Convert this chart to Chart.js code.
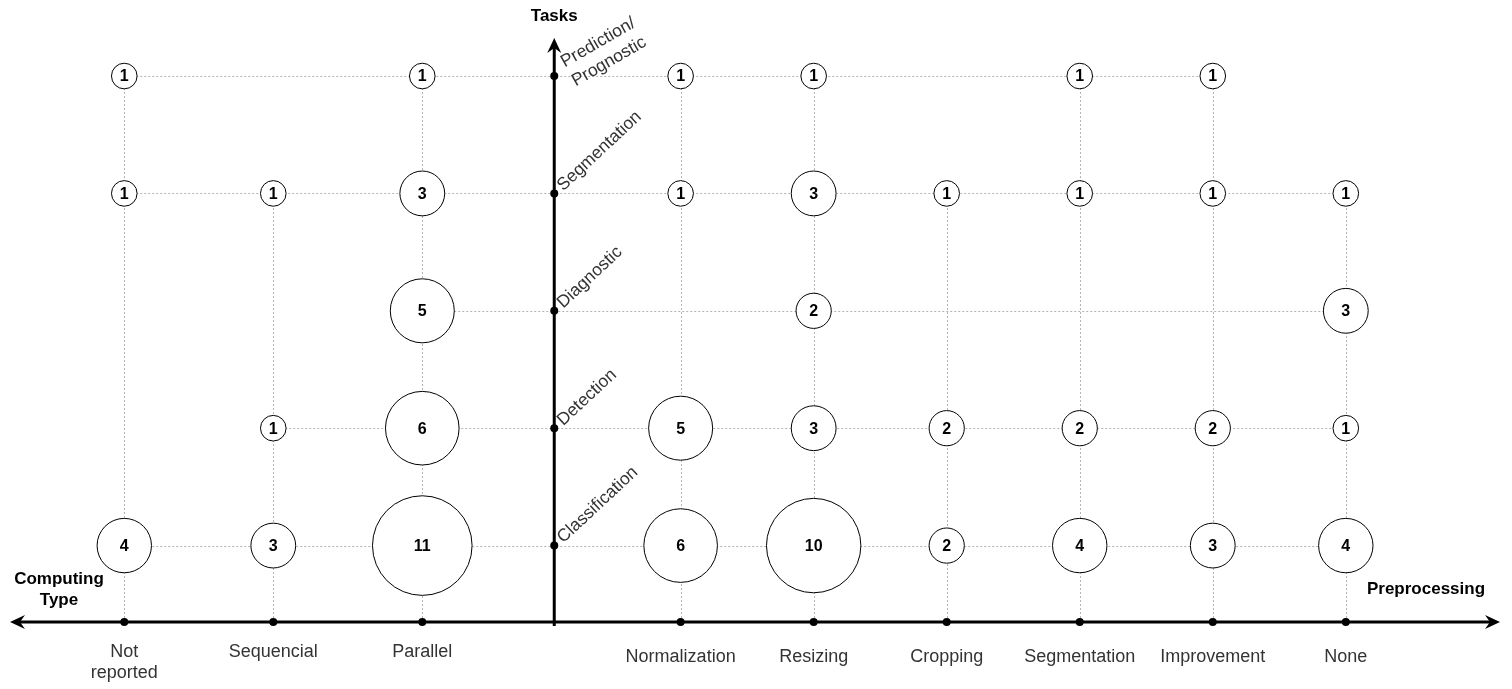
<!DOCTYPE html>
<html>
<head>
<meta charset="utf-8">
<script src="https://cdn.jsdelivr.net/npm/chart.js@4.4.1/dist/chart.umd.min.js"></script>
<style>
    html, body { margin: 0; padding: 0; background: #fff; }
    #wrap { width: 1512px; height: 689px; position: relative; }
</style>
</head>
<body>
<div id="wrap"><canvas id="chart"></canvas></div>
<script>
(function () {
    'use strict';

    // tasks from bottom (1) to top (5)
    const tasks = ['Classification', 'Detection', 'Diagnostic', 'Segmentation', ['Prediction/', 'Prognostic']];
    // left side of the horizontal axis
    const computingTypes = [['Not', 'reported'], 'Sequencial', 'Parallel'];
    // right side of the horizontal axis
    const preprocessing = ['Normalization', 'Resizing', 'Cropping', 'Segmentation', 'Improvement', 'None'];

    // number of studies, one row per category, one column per task (same order as tasks)
    const computingCounts = [
        [4, 0, 0, 1, 1],
        [3, 1, 0, 1, 0],
        [11, 6, 5, 3, 1]
    ];
    const preprocessingCounts = [
        [6, 5, 0, 1, 1],
        [10, 3, 2, 3, 1],
        [2, 2, 0, 1, 0],
        [4, 2, 0, 1, 1],
        [3, 2, 0, 1, 1],
        [4, 1, 3, 1, 0]
    ];

    const FONT = '"Liberation Sans", Arial, Helvetica, sans-serif';
    const TEXT = '#333333';
    const GRID = '#b3b3b3';
    const TASK_AXIS_AT = 0.05; // where the tasks axis crosses, in preprocessing units

    function computingX(i) {
        return i - computingTypes.length;
    }

    function preprocessingX(i) {
        return i + 1;
    }

    function toPoints(counts, xOf) {
        const points = [];
        counts.forEach(function (row, i) {
            row.forEach(function (value, t) {
                if (value > 0) {
                    points.push({ x: xOf(i), y: t + 1, v: value });
                }
            });
        });
        return points;
    }

    function bubbleRadius(value) {
        if (value <= 6) {
            return 8 + 4.8 * value;
        }
        return 36.8 + 2.6 * (value - 6);
    }

    function drawArrowHead(ctx, x, y, dx, dy) {
        const len = 15;
        const half = 7;
        const notch = 10;
        const px = -dy;
        const py = dx;
        ctx.beginPath();
        ctx.moveTo(x, y);
        ctx.lineTo(x - dx * len + px * half, y - dy * len + py * half);
        ctx.lineTo(x - dx * notch, y - dy * notch);
        ctx.lineTo(x - dx * len - px * half, y - dy * len - py * half);
        ctx.closePath();
        ctx.fill();
    }

    function axisX(chart) {
        return chart.scales.xr.getPixelForValue(TASK_AXIS_AT);
    }

    const diagramPlugin = {
        id: 'diagram',
        beforeDatasetsDraw: function (chart) {
            const ctx = chart.ctx;
            const area = chart.chartArea;
            const yScale = chart.scales.y;
            const sides = [
                { scale: chart.scales.xl, counts: computingCounts, xOf: computingX },
                { scale: chart.scales.xr, counts: preprocessingCounts, xOf: preprocessingX }
            ];

            ctx.save();
            ctx.strokeStyle = GRID;
            ctx.lineWidth = 1;
            ctx.setLineDash([2, 2]);

            // vertical connectors: axis up to the highest bubble in each column
            sides.forEach(function (side) {
                side.counts.forEach(function (row, i) {
                    let top = 0;
                    row.forEach(function (value, t) {
                        if (value > 0) {
                            top = t + 1;
                        }
                    });
                    if (!top) {
                        return;
                    }
                    const px = Math.round(side.scale.getPixelForValue(side.xOf(i))) + 0.5;
                    ctx.beginPath();
                    ctx.moveTo(px, area.bottom);
                    ctx.lineTo(px, yScale.getPixelForValue(top));
                    ctx.stroke();
                });
            });

            // horizontal connectors: leftmost to rightmost bubble in each row
            tasks.forEach(function (task, t) {
                let minX = Infinity;
                let maxX = -Infinity;
                sides.forEach(function (side) {
                    side.counts.forEach(function (row, i) {
                        if (row[t] > 0) {
                            const px = side.scale.getPixelForValue(side.xOf(i));
                            minX = Math.min(minX, px);
                            maxX = Math.max(maxX, px);
                        }
                    });
                });
                const py = Math.round(yScale.getPixelForValue(t + 1)) + 0.5;
                ctx.beginPath();
                ctx.moveTo(minX, py);
                ctx.lineTo(maxX, py);
                ctx.stroke();
            });

            ctx.restore();
        },
        afterDatasetsDraw: function (chart) {
            const ctx = chart.ctx;
            const area = chart.chartArea;
            const yScale = chart.scales.y;
            const xl = chart.scales.xl;
            const xr = chart.scales.xr;
            const centerX = axisX(chart);

            ctx.save();

            // values inside the bubbles
            ctx.fillStyle = '#000';
            ctx.font = 'bold 16px ' + FONT;
            ctx.textAlign = 'center';
            ctx.textBaseline = 'middle';
            chart.data.datasets.forEach(function (dataset, d) {
                const meta = chart.getDatasetMeta(d);
                meta.data.forEach(function (el, i) {
                    ctx.fillText(String(dataset.data[i].v), el.x, el.y + 1);
                });
            });

            // axes
            ctx.strokeStyle = '#000';
            ctx.fillStyle = '#000';
            ctx.lineWidth = 3;
            ctx.beginPath();
            ctx.moveTo(area.left + 10, area.bottom);
            ctx.lineTo(area.right - 10, area.bottom);
            ctx.stroke();
            ctx.beginPath();
            ctx.moveTo(centerX, area.bottom + 4);
            ctx.lineTo(centerX, area.top + 10);
            ctx.stroke();
            drawArrowHead(ctx, area.left, area.bottom, -1, 0);
            drawArrowHead(ctx, area.right, area.bottom, 1, 0);
            drawArrowHead(ctx, centerX, area.top, 0, -1);

            // dots on the axes
            function dot(x, y) {
                ctx.beginPath();
                ctx.arc(x, y, 4, 0, Math.PI * 2);
                ctx.fill();
            }
            computingTypes.forEach(function (c, i) {
                dot(xl.getPixelForValue(computingX(i)), area.bottom);
            });
            preprocessing.forEach(function (p, i) {
                dot(xr.getPixelForValue(preprocessingX(i)), area.bottom);
            });
            tasks.forEach(function (task, t) {
                dot(centerX, yScale.getPixelForValue(t + 1));
            });

            // category labels under the horizontal axis
            ctx.fillStyle = TEXT;
            ctx.font = '18px ' + FONT;
            ctx.textAlign = 'center';
            ctx.textBaseline = 'middle';
            function drawLines(label, x, y, lineHeight) {
                const lines = Array.isArray(label) ? label : [label];
                lines.forEach(function (line, k) {
                    ctx.fillText(line, x, y + k * lineHeight);
                });
            }
            computingTypes.forEach(function (label, i) {
                drawLines(label, xl.getPixelForValue(computingX(i)), area.bottom + 30, 21);
            });
            preprocessing.forEach(function (label, i) {
                drawLines(label, xr.getPixelForValue(preprocessingX(i)), area.bottom + 35, 21);
            });

            // task labels along the vertical axis
            ctx.font = '17.5px ' + FONT;
            ctx.textAlign = 'left';
            ctx.textBaseline = 'alphabetic';
            tasks.forEach(function (label, t) {
                const py = yScale.getPixelForValue(t + 1);
                ctx.save();
                if (Array.isArray(label)) {
                    ctx.translate(centerX + 16, py + 1);
                    ctx.rotate(-30 * Math.PI / 180);
                    label.forEach(function (line, k) {
                        ctx.fillText(line, 0, (k - (label.length - 1) / 2) * 22);
                    });
                } else {
                    ctx.translate(centerX + 9, py - 2);
                    ctx.rotate(-43 * Math.PI / 180);
                    ctx.fillText(label, 0, 0);
                }
                ctx.restore();
            });

            // axis titles
            ctx.fillStyle = '#000';
            ctx.font = 'bold 17px ' + FONT;
            ctx.textAlign = 'center';
            ctx.textBaseline = 'middle';
            ctx.fillText('Tasks', centerX, 16);
            ctx.fillText('Computing', 59, area.bottom - 43);
            ctx.fillText('Type', 59, area.bottom - 22);
            ctx.fillText('Preprocessing', 1426, area.bottom - 33);

            ctx.restore();
        }
    };

    function bubbleDataset(points, axisId) {
        return {
            data: points,
            xAxisID: axisId,
            yAxisID: 'y',
            backgroundColor: '#ffffff',
            borderColor: '#000000',
            borderWidth: 1,
            radius: function (context) {
                return bubbleRadius(context.raw.v);
            },
            clip: false
        };
    }

    Chart.defaults.font.family = FONT;

    new Chart(document.getElementById('chart'), {
        type: 'bubble',
        data: {
            datasets: [
                bubbleDataset(toPoints(computingCounts, computingX), 'xl'),
                bubbleDataset(toPoints(preprocessingCounts, preprocessingX), 'xr')
            ]
        },
        options: {
            responsive: true,
            maintainAspectRatio: false,
            animation: false,
            events: [],
            layout: { autoPadding: false, padding: { left: 10, right: 12, top: 38, bottom: 67 } },
            plugins: {
                legend: { display: false },
                tooltip: { enabled: false }
            },
            scales: {
                xl: { type: 'linear', display: false, min: -3.767, max: 6.233 },
                xr: { type: 'linear', display: false, min: -4.041, max: 7.159 },
                y: { type: 'linear', display: false, min: 0.349, max: 5.324 }
            }
        },
        plugins: [diagramPlugin]
    });
})();
</script>
</body>
</html>
